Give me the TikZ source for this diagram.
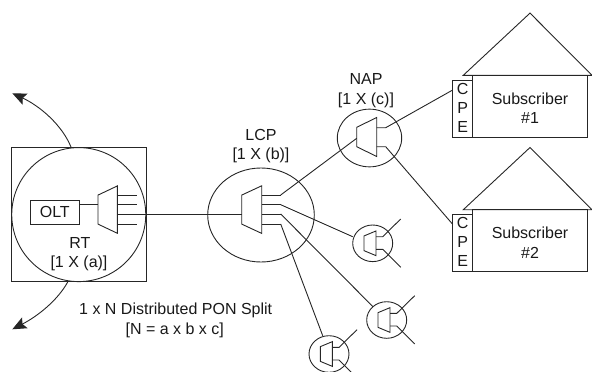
\documentclass[tikz,border=0pt]{standalone}
\usepackage{fontspec}
\setmainfont{Liberation Sans}
\usetikzlibrary{shapes.geometric,arrows.meta}
\tikzset{
  x=1pt,y=-1pt,
  ln/.style={draw=black!85,line width=0.9pt,line join=miter},
  lbl/.style={inner sep=0pt,font=\fontsize{16}{16}\selectfont,text=black!90},
  hub/.style={ellipse,ln,inner sep=0pt},
  boxn/.style={rectangle,ln,inner sep=0pt},
  flow/.style={ln,-{Stealth[length=14pt,width=12pt,inset=2.5pt]}},
}
\newcommand{\twosplit}[7]{%
  \coordinate (#1in) at (#2,#3);
  \coordinate (#1a) at (#2,#3-#5/2);
  \coordinate (#1b) at (#2,#3+#5/2);
  \coordinate (#1c) at (#2+#4,#3+#6/2);
  \coordinate (#1d) at (#2+#4,#3-#6/2);
  \draw[ln] (#1a) -- (#1d) -- (#1c) -- (#1b) -- cycle;
}
\newcommand{\napunit}[3]{%
  \node[hub,minimum width=40pt,minimum height=36.6pt] (#1) at (#2,#3) {};
  \twosplit{#1s}{#2-8.7}{#3}{12}{14.7}{24.7}{}
  \coordinate (#1u) at (#2+3.3,#3-6.6);
  \coordinate (#1v) at (#2+10,#3-6.6);
  \coordinate (#1w) at (#2+28,#3-24.3);
  \coordinate (#1x) at (#2+3.3,#3+6);
  \coordinate (#1y) at (#2+10,#3+6);
  \coordinate (#1z) at (#2+28,#3+24);
  \draw[ln] (#1u) -- (#1v) -- (#1w);
  \draw[ln] (#1x) -- (#1y) -- (#1z);
}
\begin{document}
\begin{tikzpicture}
\useasboundingbox (0,0) rectangle (592,372);
% RT
\node[boxn,minimum width=134.5pt,minimum height=134pt] (rtbox) at (78.75,214.6) {};
\node[hub,minimum width=134pt,minimum height=134pt] (rt) at (78.75,214.6) {};
\node[boxn,minimum width=48.3pt,minimum height=24pt] (olt) at (54.8,212) {};
\node[lbl] (olttext) at (54.8,212) {OLT};
\twosplit{rs}{98}{209.6}{19.3}{29}{47.3}{}
\draw[ln] (olt.east |- 0,204.7) coordinate (oltout) -- (98,204.7) coordinate (rsin);
\coordinate (ro1) at (117.3,195);  \coordinate (ro1e) at (136.7,195);
\coordinate (ro2) at (117.3,204.7);\coordinate (ro2e) at (136.7,204.7);
\coordinate (ro3) at (117.3,214);
\coordinate (ro4) at (117.3,224);  \coordinate (ro4e) at (136.7,224);
\draw[ln] (ro1) -- (ro1e);
\draw[ln] (ro2) -- (ro2e);
\draw[ln] (ro4) -- (ro4e);
\node[lbl] (rtname) at (80,243) {RT};
\node[lbl] (rtsize) at (79,263) {[1 X (a)]};
% LCP
\node[hub,minimum width=106.6pt,minimum height=94pt] (lcp) at (261,215) {};
\twosplit{ls}{241.7}{209.6}{20}{29}{47.6}{}
\coordinate (lin) at (241.7,214);
\draw[ln] (ro3) -- (lin);
\foreach \n/\yy in {1/195,2/204.7,3/214,4/224}{
  \coordinate (lo\n) at (261.7,\yy);
  \coordinate (lk\n) at (280.7,\yy);
  \draw[ln] (lo\n) -- (lk\n);
}
\node[lbl] (lcpname) at (261,135) {LCP};
\node[lbl] (lcpsize) at (261,155) {[1 X (b)]};
% NAP
\node[hub,minimum width=64.4pt,minimum height=57.7pt] (nap) at (369.5,138) {};
\twosplit{ns}{356.7}{137}{20}{19.4}{39}{}
\coordinate (nin) at (356.7,138.3);
\coordinate (no1) at (376.7,127.7); \coordinate (nk1) at (385.7,127.7);
\coordinate (no2) at (376.7,146.7); \coordinate (nk2) at (385.7,146.7);
\draw[ln] (lk1) -- (nin);
\node[lbl] (napname) at (366,79) {NAP};
\node[lbl] (napsize) at (366,100) {[1 X (c)]};
% Small NAPs
\napunit{a}{372.7}{243.3}
\napunit{b}{386.7}{320}
\napunit{c}{329}{354}
\coordinate (ain) at (352.7,236.7);
\coordinate (bin) at (373,306.7);
\coordinate (cin) at (322.7,335.7);
\draw[ln] (lk2) -- (ain);
\draw[ln] (lk3) -- (bin);
\draw[ln] (lk4) -- (cin);
% Houses
\newcommand{\house}[3]{%
  \node[boxn,minimum width=115.4pt,minimum height=62pt] (sub#1) at (530,#2+31) {};
  \node[boxn,minimum width=19.6pt,minimum height=57.3pt] (cpe#1) at (462.5,#2+33.35) {};
  \coordinate (rl#1) at (463.3,#2);
  \coordinate (ra#1) at (530,#2-62.2);
  \coordinate (rr#1) at (592,#2);
  \draw[ln] (rl#1) -- (ra#1) -- (rr#1) -- cycle;
  \node[lbl] (c#1) at (462.7,#2+13.6) {C};
  \node[lbl] (p#1) at (462.7,#2+32.4) {P};
  \node[lbl] (e#1) at (462.7,#2+51.7) {E};
  \node[lbl] (st#1) at (530,#2+23.5) {Subscriber};
  \node[lbl] (sn#1) at (530,#2+43) {\##1};
}
\house{1}{75.3}{}
\house{2}{209.7}{}
\coordinate (cp1) at (452.7,90);
\coordinate (cp2) at (452.7,224.3);
\draw[ln] (no1) -- (nk1) -- (cp1);
\draw[ln] (no2) -- (nk2) -- (cp2);
% Split label
\node[lbl] (split) at (175.7,310) {1 x N Distributed PON Split};
\node[lbl] (formula) at (174.7,330.5) {[N = a x b x c]};
% Arrows
\coordinate (tA) at (71,147);
\coordinate (tB) at (12.3,93.3);
\coordinate (bA) at (68,281.5);
\coordinate (bB) at (12.3,329.3);
\draw[flow] (tA) .. controls (62,125) and (40,106) .. (tB);
\draw[flow] (bA) .. controls (58,300) and (38,316) .. (bB);
\end{tikzpicture}
\end{document}
